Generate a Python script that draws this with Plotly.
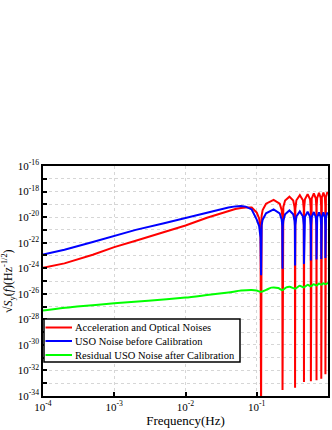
import plotly.graph_objects as go

# Frequencies (Hz) for the red and blue curves
freq = [
    1e-4, 2e-4, 5e-4, 1e-3, 2e-3, 5e-3, 1e-2, 2e-2, 3e-2, 4e-2, 5e-2, 6e-2, 7e-2, 0.085, 0.1, 0.108, 0.113, 0.115,
    0.117, 0.121, 0.135, 0.1725, 0.21, 0.224, 0.228, 0.23,
    0.232, 0.236, 0.25, 0.2875, 0.325, 0.339, 0.343, 0.345,
    0.348, 0.36, 0.4025, 0.445, 0.457, 0.46,
    0.463, 0.475, 0.5175, 0.56, 0.572, 0.575,
    0.578, 0.59, 0.6325, 0.675, 0.687, 0.69,
    0.693, 0.705, 0.7475, 0.79, 0.802, 0.805,
    0.808, 0.82, 0.8625, 0.905, 0.917, 0.92,
    0.923, 0.935, 0.9775, 1.0,
]

# log10 of sqrt(S(f))
accel_optical_exp = [
    -23.97, -23.62, -22.95, -22.35, -21.85, -21.2, -20.66, -20.05, -19.72, -19.5, -19.36, -19.28, -19.24, -19.25, -19.65, -20.1, -21.0, -36.0,
    -19.9, -19.45, -18.95, -18.65, -18.95, -19.45, -19.9, -33.54,
    -19.65, -19.2, -18.7, -18.4, -18.7, -19.2, -19.65, -33.36,
    -19.35, -18.68, -18.28, -18.68, -19.35, -32.9,
    -19.27, -18.6, -18.2, -18.6, -19.27, -32.84,
    -19.22, -18.55, -18.15, -18.55, -19.22, -32.76,
    -19.17, -18.5, -18.1, -18.5, -19.17, -32.65,
    -19.14, -18.47, -18.07, -18.47, -19.14, -32.3,
    -19.12, -18.45, -18.05, -18.2,
]

uso_before_exp = [
    -22.93, -22.55, -21.95, -21.45, -21.0, -20.48, -20.06, -19.63, -19.4, -19.25, -19.16, -19.13, -19.18, -19.4, -20.2, -20.7, -21.6, -24.54,
    -20.65, -20.2, -19.7, -19.4, -19.7, -20.2, -20.65, -24.05,
    -20.73, -20.28, -19.78, -19.48, -19.78, -20.28, -20.73, -23.79,
    -20.62, -19.95, -19.55, -19.95, -20.62, -23.66,
    -20.65, -19.98, -19.58, -19.98, -20.65, -23.4,
    -20.67, -20.0, -19.6, -20.0, -20.67, -23.32,
    -20.69, -20.02, -19.62, -20.02, -20.69, -23.27,
    -20.7, -20.03, -19.63, -20.03, -20.7, -23.2,
    -20.71, -20.04, -19.64, -19.8,
]

green_freq = [1e-4, 3e-4, 1e-3, 3e-3, 1e-2, 2e-2, 4e-2, 6e-2, 8.5e-2, 0.1, 0.115, 0.135, 0.16, 0.2, 0.23,
              0.26, 0.29, 0.345, 0.4, 0.46, 0.52, 0.575, 0.63, 0.69, 0.75, 0.805, 0.86, 0.92, 1.0]
uso_after_exp = [-27.31, -27.0, -26.75, -26.55, -26.3, -26.1, -25.9, -25.75, -25.7, -25.75, -25.85, -25.7, -25.52,
                 -25.55, -25.72, -25.5, -25.45, -25.6, -25.38, -25.5, -25.3, -25.42, -25.25, -25.35, -25.2, -25.3,
                 -25.17, -25.25, -25.14]

series_names = ["Acceleration and Optical Noises", "USO Noise before Calibration",
                "Residual USO Noise after Calibration"]
series_colors = ["#ff0000", "#0000ff", "#00ff00"]

x_tickvals = [1e-4, 1e-3, 1e-2, 1e-1, 1e0]
x_ticktext = ["10<sup>-4</sup>", "10<sup>-3</sup>", "10<sup>-2</sup>", "10<sup>-1</sup>", "10<sup>0</sup>"]
y_exps_major = [-34, -32, -30, -28, -26, -24, -22, -20, -18, -16]
y_exps_minor = [-33, -31, -29, -27, -25, -23, -21, -19, -17]

FONT = "Liberation Serif, Times New Roman, serif"

fig = go.Figure()
fig.add_trace(go.Scatter(x=freq, y=[10 ** v for v in accel_optical_exp], mode="lines",
                         name=series_names[0], line=dict(color=series_colors[0], width=2)))
fig.add_trace(go.Scatter(x=freq, y=[10 ** v for v in uso_before_exp], mode="lines",
                         name=series_names[1], line=dict(color=series_colors[1], width=2)))
fig.add_trace(go.Scatter(x=green_freq, y=[10 ** v for v in uso_after_exp], mode="lines",
                         name=series_names[2],
                         line=dict(color=series_colors[2], width=2, shape="spline", smoothing=0.6)))

grid = dict(showgrid=True, gridcolor="#d6d6d6", griddash="dot", gridwidth=1)

fig.update_xaxes(type="log", range=[-4, 0], tickmode="array", tickvals=x_tickvals, ticktext=x_ticktext,
                 ticks="inside", ticklen=4, tickwidth=1.5, tickcolor="black", automargin=False,
                 showline=True, linecolor="black", linewidth=1.5, mirror=True,
                 tickfont=dict(family=FONT, size=11, color="black"),
                 title=dict(text="Frequency(Hz)", font=dict(family=FONT, size=13, color="black"), standoff=0),
                 zeroline=False, **grid)
fig.update_yaxes(type="log", range=[-34, -16], tickmode="array", automargin=False,
                 tickvals=[10.0 ** e for e in y_exps_major],
                 ticktext=["10<sup>%d</sup>" % e for e in y_exps_major],
                 ticks="inside", ticklen=4, tickwidth=1.5, tickcolor="black",
                 showline=True, linecolor="black", linewidth=1.5, mirror=True,
                 tickfont=dict(family=FONT, size=11, color="black"),
                 minor=dict(tickmode="array", tickvals=[10.0 ** e for e in y_exps_minor], ticks="inside",
                            ticklen=4, tickwidth=1.5, tickcolor="black", showgrid=True,
                            gridcolor="#d6d6d6", griddash="dot", gridwidth=1),
                 zeroline=False, **grid)

fig.add_annotation(text="√<i>S</i><sub>y</sub>(<i>f</i>)(Hz<sup>-1/2</sup>)", textangle=-90,
                   xref="paper", yref="paper", x=(8 - 43) / 285, y=0.5, showarrow=False,
                   xanchor="center", yanchor="middle", font=dict(family=FONT, size=12, color="black"))

# Compact legend box (drawn in paper coordinates)
PW, PH, L, B = 285.0, 230.0, 43.0, 396.0
def px(xp):
    return (xp - L) / PW
def py(yp):
    return (B - yp) / PH

fig.add_shape(type="rect", xref="paper", yref="paper", x0=px(44), x1=px(240), y0=py(362), y1=py(319),
              line=dict(color="black", width=1.5), fillcolor="white", layer="above")
row_y = [327.5, 341, 355]
for name, color, yy in zip(series_names, series_colors, row_y):
    fig.add_shape(type="line", xref="paper", yref="paper", x0=px(45.5), x1=px(72), y0=py(yy), y1=py(yy),
                  line=dict(color=color, width=2), layer="above")
    fig.add_annotation(text=name, xref="paper", yref="paper", x=px(73), y=py(yy), showarrow=False,
                       xanchor="left", yanchor="middle", font=dict(family=FONT, size=10.5, color="black"))

fig.update_layout(
    width=332, height=430,
    margin=dict(l=43, r=4, t=166, b=34, pad=0),
    paper_bgcolor="white", plot_bgcolor="white",
    showlegend=False,
)

fig.write_html("out.html", config={"displayModeBar": False},
               post_script="document.body.style.margin='0px';document.body.style.padding='0px';")
